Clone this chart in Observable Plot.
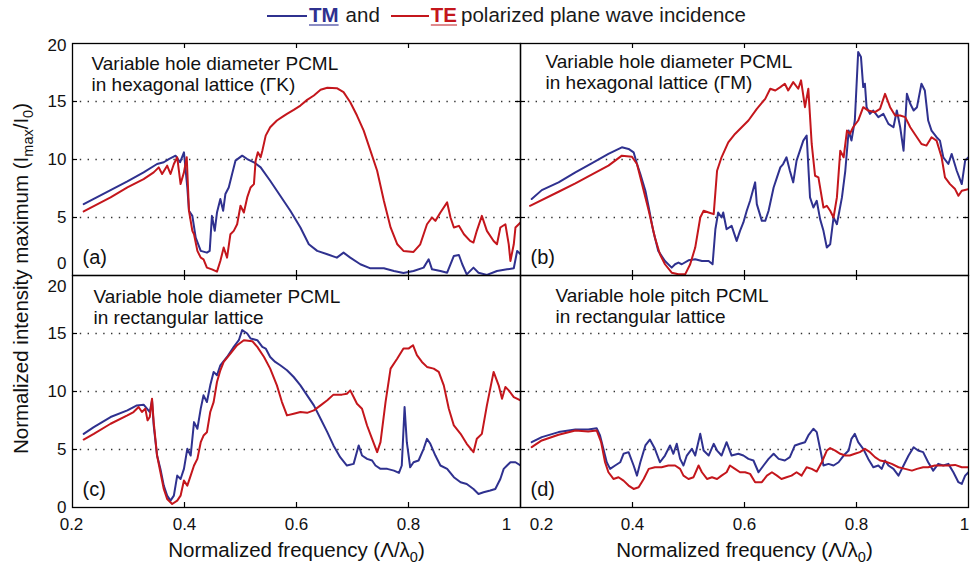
<!DOCTYPE html>
<html>
<head>
<meta charset="utf-8">
<script src="https://cdn.jsdelivr.net/npm/d3@7"></script>
<script src="https://cdn.jsdelivr.net/npm/@observablehq/plot@0.6"></script>
<style>
  body { margin: 0; background: #fff; }
  #wrap { width: 970px; height: 564px; position: relative; overflow: hidden; background: #fff;
          font-family: "Liberation Sans", Arial, Helvetica, sans-serif; color: #1a1a1a; }
  #legend { height: 30px; display: flex; align-items: center; font-size: 20.5px; padding-left: 267px; box-sizing: border-box; }
  #legend .ln { display: inline-block; width: 40px; height: 2.5px; margin-top: 2px; }
  #legend .key { font-weight: bold; text-decoration: underline; text-underline-offset: 2px; }
</style>
</head>
<body>
<div id="wrap">
  <div id="legend"></div>
  <div id="chart"></div>
</div>
<script>
// ---------------- data (x = normalized frequency, y = normalized intensity maximum) ----------------
const seriesNames = ["TM", "TE"];
const legendSuffix = "polarized plane wave incidence";
const panelLetters = ["(a)", "(b)", "(c)", "(d)"];
const panelTitles = [
  "Variable hole diameter PCML\nin hexagonal lattice (\u0393K)",
  "Variable hole diameter PCML\nin hexagonal lattice (\u0393M)",
  "Variable hole diameter PCML\nin rectangular lattice",
  "Variable hole pitch PCML\nin rectangular lattice"
];
const xTickValues = [0.2, 0.4, 0.6, 0.8, 1];
const yTickValues = [0, 5, 10, 15, 20];
const gridValues = [5, 10, 15];
const xAxisLabel = "Normalized frequency (\u039B/\u03BB0)";
const yAxisLabel = "Normalized intensity maximum (Imax/I0)";

const tmA = [[0.220,6.15],[0.268,7.36],[0.298,8.11],[0.327,8.89],[0.351,9.61],[0.363,9.76],[0.372,10.04],[0.384,10.33],[0.392,9.76],[0.399,10.62],[0.405,7.59],[0.408,5.58],[0.414,5.14],[0.420,3.27],[0.429,2.12],[0.440,1.97],[0.445,2.12],[0.449,5.14],[0.454,3.85],[0.458,5.43],[0.464,6.59],[0.469,5.58],[0.473,7.02],[0.479,7.59],[0.485,8.75],[0.491,9.90],[0.503,10.33],[0.512,10.04],[0.524,9.76],[0.536,9.32],[0.553,8.17],[0.571,6.87],[0.589,5.58],[0.607,4.14],[0.622,2.69],[0.637,2.12],[0.655,1.83],[0.672,1.54],[0.684,1.97],[0.696,1.54],[0.714,0.97],[0.732,0.62],[0.756,0.62],[0.774,0.39],[0.791,0.22],[0.809,0.39],[0.827,0.68],[0.836,1.40],[0.842,0.53],[0.857,0.39],[0.869,0.24],[0.881,1.69],[0.890,1.77],[0.896,0.97],[0.904,0.10],[0.916,0.68],[0.925,0.24],[0.940,0.05],[0.958,0.39],[0.976,0.53],[0.988,0.62],[0.994,2.12],[1.000,1.83]];
const teA = [[0.220,5.52],[0.268,6.73],[0.298,7.59],[0.327,8.31],[0.345,8.89],[0.354,9.32],[0.360,8.75],[0.369,9.47],[0.375,8.75],[0.381,9.61],[0.387,10.19],[0.393,7.88],[0.399,8.89],[0.404,10.19],[0.408,5.58],[0.414,3.85],[0.417,3.56],[0.423,2.12],[0.429,1.54],[0.434,1.40],[0.440,0.68],[0.449,0.53],[0.458,0.33],[0.464,1.25],[0.470,2.41],[0.476,1.54],[0.482,3.56],[0.488,3.85],[0.494,4.42],[0.500,6.01],[0.506,5.43],[0.512,6.73],[0.518,7.59],[0.524,7.88],[0.527,9.90],[0.531,10.62],[0.536,10.19],[0.539,10.76],[0.545,12.06],[0.553,12.78],[0.565,13.36],[0.574,13.65],[0.583,13.93],[0.595,14.28],[0.607,14.65],[0.619,15.14],[0.631,15.52],[0.643,16.01],[0.655,16.18],[0.672,16.15],[0.684,15.81],[0.696,14.94],[0.708,13.79],[0.720,12.49],[0.732,10.76],[0.744,9.03],[0.756,6.44],[0.768,4.14],[0.780,2.69],[0.791,2.12],[0.809,2.03],[0.821,2.69],[0.833,4.42],[0.842,5.00],[0.848,4.71],[0.857,5.43],[0.869,6.30],[0.875,5.00],[0.881,4.14],[0.890,4.28],[0.899,3.56],[0.910,2.98],[0.916,2.84],[0.922,3.85],[0.931,5.14],[0.940,3.85],[0.952,2.98],[0.958,2.69],[0.964,4.14],[0.973,4.42],[0.979,2.69],[0.982,1.25],[0.988,2.69],[0.991,4.14],[1.000,4.57]];
const tmB = [[0.220,6.59],[0.238,7.36],[0.268,8.03],[0.298,8.89],[0.327,9.67],[0.357,10.48],[0.381,11.05],[0.393,10.91],[0.402,10.62],[0.408,9.61],[0.414,8.75],[0.423,7.31],[0.429,5.86],[0.437,3.85],[0.446,2.12],[0.458,1.25],[0.470,0.68],[0.476,0.97],[0.482,1.11],[0.488,0.97],[0.500,1.31],[0.512,1.40],[0.524,1.25],[0.536,1.25],[0.543,0.97],[0.548,3.99],[0.553,5.43],[0.559,5.00],[0.562,5.43],[0.568,3.99],[0.577,4.28],[0.586,2.98],[0.592,3.85],[0.598,4.57],[0.604,5.58],[0.610,6.44],[0.619,8.03],[0.622,6.15],[0.631,4.71],[0.637,4.71],[0.643,5.58],[0.652,7.59],[0.658,8.46],[0.664,9.32],[0.669,9.61],[0.675,10.19],[0.681,9.03],[0.687,8.03],[0.693,9.90],[0.699,10.76],[0.705,11.63],[0.711,12.06],[0.717,6.73],[0.723,5.86],[0.729,6.44],[0.735,4.86],[0.741,3.85],[0.747,2.41],[0.753,2.69],[0.759,5.00],[0.765,4.42],[0.774,6.73],[0.780,9.03],[0.786,12.49],[0.791,11.63],[0.797,13.36],[0.803,19.27],[0.808,18.83],[0.812,16.24],[0.815,16.53],[0.818,14.51],[0.824,13.93],[0.830,14.22],[0.839,13.65],[0.848,13.93],[0.857,13.07],[0.866,12.78],[0.872,14.22],[0.878,12.78],[0.884,10.76],[0.890,15.66],[0.896,14.80],[0.902,14.22],[0.908,14.51],[0.916,16.53],[0.922,15.95],[0.928,13.36],[0.934,12.49],[0.943,11.92],[0.949,11.63],[0.955,10.19],[0.964,9.61],[0.970,10.48],[0.979,9.03],[0.988,7.88],[0.994,9.90],[1.000,10.19]];
const teB = [[0.217,6.01],[0.268,7.22],[0.298,7.94],[0.327,8.69],[0.357,9.47],[0.381,10.33],[0.399,10.24],[0.408,9.61],[0.417,7.88],[0.429,5.58],[0.440,3.27],[0.449,1.83],[0.458,0.97],[0.470,0.24],[0.482,0.10],[0.494,0.10],[0.503,0.97],[0.512,2.41],[0.521,5.00],[0.527,5.58],[0.536,5.43],[0.545,5.29],[0.551,9.03],[0.559,10.19],[0.571,11.48],[0.583,12.20],[0.595,12.78],[0.607,13.36],[0.622,14.37],[0.637,15.23],[0.646,16.10],[0.655,15.95],[0.664,16.24],[0.672,16.53],[0.678,15.95],[0.687,16.67],[0.696,16.10],[0.701,16.82],[0.708,14.51],[0.714,16.10],[0.720,11.34],[0.726,8.60],[0.732,8.46],[0.741,5.86],[0.747,6.01],[0.753,5.58],[0.759,5.00],[0.765,6.73],[0.771,10.76],[0.777,10.19],[0.783,12.49],[0.788,12.20],[0.794,12.78],[0.803,13.36],[0.812,14.51],[0.821,14.22],[0.833,14.08],[0.842,14.37],[0.851,15.66],[0.860,14.51],[0.869,13.79],[0.878,13.79],[0.887,13.65],[0.896,12.78],[0.904,12.20],[0.916,11.34],[0.925,11.20],[0.934,11.92],[0.943,11.63],[0.952,10.19],[0.958,8.46],[0.967,7.88],[0.976,7.45],[0.982,6.87],[0.988,7.31],[1.000,7.45]];
const tmC = [[0.220,6.35],[0.238,6.93],[0.268,7.80],[0.298,8.37],[0.315,8.80],[0.327,8.86],[0.333,8.52],[0.338,8.23],[0.342,9.24],[0.345,7.07],[0.351,4.48],[0.357,3.33],[0.363,1.89],[0.369,1.02],[0.375,0.59],[0.381,1.02],[0.387,2.75],[0.393,2.46],[0.399,3.33],[0.405,5.06],[0.411,4.48],[0.417,7.36],[0.423,6.79],[0.429,8.52],[0.434,9.67],[0.440,9.09],[0.446,10.53],[0.452,11.69],[0.458,11.40],[0.464,12.26],[0.476,12.98],[0.488,13.85],[0.497,14.42],[0.503,15.29],[0.512,15.00],[0.518,14.57],[0.530,14.42],[0.539,13.85],[0.545,13.70],[0.553,12.98],[0.562,12.55],[0.571,12.26],[0.583,11.83],[0.595,11.25],[0.607,10.53],[0.619,9.67],[0.631,8.80],[0.643,7.65],[0.655,6.50],[0.666,5.35],[0.678,4.34],[0.690,3.62],[0.702,3.76],[0.711,5.35],[0.717,4.48],[0.726,4.19],[0.735,4.05],[0.741,3.62],[0.750,3.33],[0.762,3.33],[0.774,3.18],[0.783,2.98],[0.788,3.62],[0.793,8.66],[0.797,5.63],[0.803,3.47],[0.809,3.90],[0.818,4.05],[0.827,5.06],[0.833,5.92],[0.839,5.49],[0.848,4.48],[0.857,3.62],[0.869,3.33],[0.881,2.61],[0.893,2.18],[0.904,2.03],[0.916,1.60],[0.925,1.17],[0.934,1.31],[0.946,1.46],[0.955,1.60],[0.964,2.46],[0.970,3.33],[0.976,3.62],[0.982,3.90],[0.991,3.90],[1.000,3.62]];
const teC = [[0.220,5.86],[0.238,6.35],[0.268,7.22],[0.298,7.94],[0.309,8.23],[0.318,8.66],[0.324,8.23],[0.330,8.52],[0.334,7.51],[0.338,7.80],[0.342,9.38],[0.345,7.36],[0.351,4.48],[0.357,3.04],[0.363,1.60],[0.369,0.73],[0.378,0.30],[0.387,0.59],[0.393,1.02],[0.399,2.32],[0.405,1.89],[0.411,2.75],[0.417,3.62],[0.423,4.19],[0.429,5.63],[0.434,6.20],[0.440,6.48],[0.446,8.23],[0.452,9.09],[0.458,10.82],[0.464,11.83],[0.470,12.55],[0.482,13.27],[0.494,13.99],[0.506,14.42],[0.521,14.34],[0.530,13.85],[0.542,12.98],[0.553,11.97],[0.565,10.53],[0.574,9.09],[0.583,7.94],[0.595,8.08],[0.607,8.23],[0.619,8.16],[0.631,8.37],[0.643,8.80],[0.655,9.24],[0.666,9.73],[0.681,9.73],[0.690,9.81],[0.696,10.10],[0.702,9.52],[0.708,8.95],[0.717,8.52],[0.726,7.07],[0.735,5.92],[0.744,4.77],[0.750,5.63],[0.759,9.09],[0.768,11.97],[0.780,12.84],[0.791,13.70],[0.800,13.70],[0.808,13.99],[0.815,13.13],[0.824,12.55],[0.833,12.12],[0.845,11.97],[0.854,11.69],[0.863,10.53],[0.872,8.52],[0.881,7.07],[0.893,6.35],[0.904,5.49],[0.916,4.77],[0.922,5.92],[0.931,6.35],[0.940,8.80],[0.952,11.69],[0.961,10.53],[0.967,9.38],[0.973,10.39],[0.979,10.10],[0.988,9.52],[1.000,9.24]];
const tmD = [[0.220,5.63],[0.238,6.07],[0.268,6.50],[0.298,6.73],[0.321,6.73],[0.336,6.84],[0.342,6.21],[0.348,5.06],[0.354,3.90],[0.360,3.33],[0.369,3.62],[0.378,3.90],[0.384,4.63],[0.393,4.77],[0.402,3.62],[0.408,2.75],[0.414,3.90],[0.423,5.35],[0.431,5.86],[0.440,5.06],[0.449,3.90],[0.458,4.48],[0.467,5.35],[0.473,4.63],[0.479,5.49],[0.485,4.19],[0.491,3.62],[0.497,4.48],[0.506,5.06],[0.512,4.48],[0.521,6.35],[0.527,4.91],[0.536,4.48],[0.545,5.49],[0.551,4.91],[0.559,4.48],[0.568,5.63],[0.577,4.48],[0.589,4.63],[0.598,4.48],[0.607,4.19],[0.616,4.05],[0.625,3.04],[0.634,3.62],[0.643,4.19],[0.652,4.63],[0.661,4.19],[0.672,4.05],[0.681,4.34],[0.690,5.35],[0.699,5.49],[0.708,5.63],[0.714,6.21],[0.723,6.79],[0.729,6.50],[0.735,5.06],[0.741,3.62],[0.750,3.76],[0.759,3.62],[0.768,3.90],[0.777,4.48],[0.786,4.91],[0.791,5.92],[0.797,6.35],[0.803,5.63],[0.812,5.06],[0.821,4.19],[0.830,3.47],[0.839,3.62],[0.845,3.33],[0.851,4.05],[0.857,3.62],[0.866,3.33],[0.875,2.75],[0.884,3.62],[0.893,4.48],[0.902,5.20],[0.910,4.91],[0.919,4.77],[0.928,3.90],[0.937,3.18],[0.946,3.76],[0.955,3.62],[0.964,3.76],[0.973,3.04],[0.982,2.18],[0.988,2.03],[0.994,2.75],[1.000,3.04]];
const teD = [[0.220,5.20],[0.238,5.78],[0.268,6.27],[0.298,6.64],[0.321,6.56],[0.336,6.64],[0.344,5.63],[0.351,3.90],[0.357,3.04],[0.366,2.46],[0.375,2.61],[0.384,2.32],[0.393,1.89],[0.402,1.60],[0.411,1.74],[0.420,2.46],[0.429,3.33],[0.440,3.47],[0.452,3.47],[0.464,3.62],[0.476,3.62],[0.485,3.33],[0.491,2.75],[0.500,2.46],[0.509,2.61],[0.518,3.62],[0.524,3.04],[0.533,2.46],[0.542,2.61],[0.551,2.46],[0.559,2.75],[0.568,3.04],[0.574,3.62],[0.583,3.33],[0.592,3.04],[0.601,3.04],[0.610,2.90],[0.619,2.18],[0.631,2.18],[0.640,2.75],[0.649,3.04],[0.658,2.75],[0.666,2.46],[0.675,2.61],[0.684,2.75],[0.693,3.04],[0.702,2.75],[0.711,3.47],[0.720,3.33],[0.729,3.10],[0.738,3.90],[0.747,4.91],[0.753,5.12],[0.762,4.91],[0.771,4.63],[0.780,4.48],[0.788,4.48],[0.797,4.63],[0.806,4.77],[0.815,5.06],[0.824,4.77],[0.833,4.34],[0.842,4.05],[0.851,3.96],[0.863,3.76],[0.875,3.47],[0.887,3.33],[0.899,3.18],[0.908,3.33],[0.919,3.47],[0.928,3.47],[0.940,3.62],[0.952,3.62],[0.964,3.62],[0.976,3.67],[0.988,3.47],[1.000,3.47]];

// ---------------- styling / layout ----------------
const TM_COLOR = "#2f318f";
const TE_COLOR = "#c4161c";
const INK = "#111";
const FONT = "'Liberation Sans', Arial, Helvetica, sans-serif";

const panels = [
  {col: "L", row: "T", tm: tmA, te: teA, tdx: 19, tdy: 30},
  {col: "R", row: "T", tm: tmB, te: teB, tdx: 25, tdy: 28.5},
  {col: "L", row: "B", tm: tmC, te: teC, tdx: 21, tdy: 31},
  {col: "R", row: "B", tm: tmD, te: teD, tdx: 35, tdy: 30}
];

// legend (HTML above the SVG)
const legend = document.getElementById("legend");
legend.innerHTML =
  `<span class="ln" style="background:${TM_COLOR}"></span>` +
  `<span class="key" style="color:${TM_COLOR};margin-left:2px;text-decoration-color:#8a8cc4">${seriesNames[0]}</span>` +
  `<span style="margin-left:7px">and</span>` +
  `<span class="ln" style="background:${TE_COLOR};margin-left:11px;width:38px"></span>` +
  `<span class="key" style="color:${TE_COLOR};margin-left:2px;text-decoration-color:#e08a8d">${seriesNames[1]}</span>` +
  `<span style="margin-left:4px">${legendSuffix}</span>`;

// rows for the curves
const rows = [];
for (const p of panels) {
  for (const [x, y] of p.tm) rows.push({col: p.col, row: p.row, series: seriesNames[0], x, y});
  for (const [x, y] of p.te) rows.push({col: p.col, row: p.row, series: seriesNames[1], x, y});
}

const PW = 448, PH = 232, TICK = 5;

// tick label rows with their offsets
const fmtX = v => v === 1 ? "1" : v.toFixed(1);
function xShift(col, v) {
  if (col === "L" && v === 1) return -14;
  if (col === "R" && v === 0.2) return 21;
  if (col === "R" && v === 1) return -4;
  if (v === 0.2) return -1;
  return 0;
}
function yShift(row, v) {
  if (row === "T" && v === 0) return -12;
  if (row === "T" && v === 20) return 2;
  if (row === "B" && v === 20) return 11;
  return 0;
}
const xLabelRows = [];
for (const col of ["L", "R"]) for (const v of xTickValues) xLabelRows.push({col, row: "B", v, s: xShift(col, v)});
const yLabelRows = [];
for (const row of ["T", "B"]) for (const v of yTickValues) yLabelRows.push({col: "L", row, v, s: yShift(row, v)});

const xLabelMarks = d3.groups(xLabelRows, d => d.s).map(([s, g]) =>
  Plot.text(g, {x: "v", fx: "col", fy: "row", text: d => fmtX(d.v), frameAnchor: "bottom",
    lineAnchor: "middle", textAnchor: "middle", dy: 17.5, dx: s, fontSize: 17, fill: INK}));
const yLabelMarks = d3.groups(yLabelRows, d => d.s).map(([s, g]) =>
  Plot.text(g, {y: "v", fx: "col", fy: "row", text: d => String(d.v), frameAnchor: "left",
    lineAnchor: "middle", textAnchor: "end", dx: -6, dy: s, fontSize: 17, fill: INK}));

const titleMarks = panels.map((p, i) =>
  Plot.text([p], {fx: "col", fy: "row", text: () => panelTitles[i], frameAnchor: "top-left",
    textAnchor: "start", lineAnchor: "middle", lineHeight: 1.1, dx: p.tdx, dy: p.tdy, fontSize: 19, fill: INK}));
const letterMarks = panels.map((p, i) =>
  Plot.text([p], {fx: "col", fy: "row", text: () => panelLetters[i], frameAnchor: "bottom-left",
    textAnchor: "start", lineAnchor: "middle", dx: 10, dy: -18, fontSize: 20, fill: INK}));

const chart = Plot.plot({
  width: 970,
  height: 534,
  marginLeft: 72, marginRight: 2, marginTop: 13, marginBottom: 57,
  style: {fontFamily: FONT, fontSize: "17px", background: "#fff", color: INK, overflow: "visible"},
  x: {domain: [0.2, 1.0], axis: null},
  y: {domain: [0, 20], axis: null},
  fx: {domain: ["L", "R"], padding: 0, round: false, axis: null},
  fy: {domain: ["T", "B"], padding: 0, round: false, axis: null},
  color: {domain: seriesNames, range: [TM_COLOR, TE_COLOR]},
  marks: [
    Plot.ruleY(gridValues, {stroke: "#333", strokeWidth: 1.3, strokeDasharray: "1.4,6.4"}),
    Plot.line(rows, {x: "x", y: "y", z: "series", stroke: "series", fx: "col", fy: "row",
      strokeWidth: 2, strokeLinejoin: "round", clip: true}),
    Plot.frame({stroke: "#000", strokeWidth: 1.3}),
    Plot.ruleX(xTickValues.slice(1, -1), {stroke: "#000", strokeWidth: 1.2, insetTop: PH - TICK}),
    Plot.ruleX(xTickValues.slice(1, -1), {stroke: "#000", strokeWidth: 1.2, insetBottom: PH - TICK}),
    Plot.ruleY(gridValues, {stroke: "#000", strokeWidth: 1.2, insetRight: PW - TICK}),
    Plot.ruleY(gridValues, {stroke: "#000", strokeWidth: 1.2, insetLeft: PW - TICK}),
    ...xLabelMarks,
    ...yLabelMarks,
    ...titleMarks,
    ...letterMarks,
    Plot.text([{col: "L", row: "B"}, {col: "R", row: "B"}], {fx: "col", fy: "row", text: () => xAxisLabel,
      frameAnchor: "bottom", lineAnchor: "middle", textAnchor: "middle", dy: 43, fontSize: 20.5, fill: INK}),
    Plot.text([{col: "L", row: "T"}], {fx: "col", fy: "row", text: () => yAxisLabel,
      frameAnchor: "left", lineAnchor: "middle", textAnchor: "middle", rotate: -90, dx: -51.5, dy: 119, fontSize: 20.5, fill: INK})
  ]
});
document.getElementById("chart").appendChild(chart);

// subscripts as real SVG text (tspans)
function subscriptify(svg, plain, parts, size, shift) {
  for (const t of svg.querySelectorAll("text")) {
    if (t.textContent !== plain) continue;
    while (t.firstChild) t.removeChild(t.firstChild);
    let down = false;
    for (const [s, sub] of parts) {
      const ts = document.createElementNS("http://www.w3.org/2000/svg", "tspan");
      ts.textContent = s;
      if (sub) {
        ts.setAttribute("font-size", size);
        if (!down) { ts.setAttribute("dy", shift); down = true; }
      } else if (down) {
        ts.setAttribute("dy", -shift); down = false;
      }
      t.appendChild(ts);
    }
  }
}
subscriptify(chart, xAxisLabel, [["Normalized frequency (\u039B/\u03BB", false], ["0", true], [")", false]], 14.5, 5);
subscriptify(chart, yAxisLabel, [["Normalized intensity maximum (I", false], ["max", true], ["/I", false], ["0", true], [")", false]], 14.5, 5);
</script>
</body>
</html>
